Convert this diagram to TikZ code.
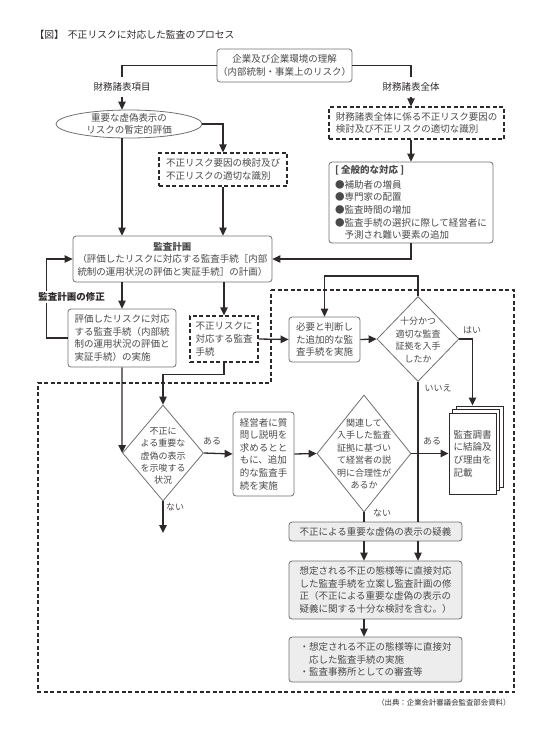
\documentclass[tikz,border=0pt]{standalone}
\usepackage{fontspec}
\setmainfont{Noto Sans CJK JP}
\usepackage{tikz}
\usetikzlibrary{positioning,arrows.meta,shapes.geometric}
\definecolor{lnc}{HTML}{2F2A2A}
\definecolor{bdc}{HTML}{707070}
\definecolor{txc}{HTML}{4A4A4A}
\definecolor{flc}{HTML}{EDEDED}

\begin{document}
\begin{tikzpicture}[x=1pt,y=-1pt,
		txt/.style={font=\fontsize{9.5}{12.6}\selectfont,text=txc},
		box/.style={txt,draw=bdc,line width=0.8pt,rounded corners=3pt,fill=white,inner sep=0pt,align=left},
		gbox/.style={box,fill=flc},
		dbox/.style={txt,draw=lnc,line width=1.3pt,dash pattern=on 4pt off 2.5pt,fill=white,inner sep=0pt,align=left},
		dia/.style={draw=bdc,line width=0.8pt,shape=diamond,inner sep=0pt,fill=white},
		page/.style={txt,draw=lnc,line width=1pt,fill=white,inner sep=0pt,align=left,minimum width=47,minimum height=81},
		lbl/.style={font=\fontsize{9}{11}\selectfont,text=txc,inner sep=1pt},
		conn/.style={draw=lnc,line width=1.3pt},
		arr/.style={conn,-{Triangle[length=8pt,width=7.5pt]}}]
	\useasboundingbox (0,0) rectangle (550,732);

	\node[anchor=west,font=\fontsize{9.8}{12}\selectfont,text=lnc] (TTL) at (31,35) {【図】\hspace{4pt}不正リスクに対応した監査のプロセス};

	% dashed frame round the fraud response part
	\draw[lnc,line width=1.3pt,dash pattern=on 4pt off 2.5pt] (271,290) -- (514,290) -- (514,692) -- (38,692) -- (38,383) -- (271,383) -- cycle;

	\node[box,align=center,minimum width=135,minimum height=33] (TOP) at (284.5,65.5) {企業及び企業環境の理解\\（内部統制・事業上のリスク）};

	\node[shape=ellipse,draw=bdc,line width=0.8pt,fill=white,minimum width=146,minimum height=28,inner sep=0pt] (ELL) at (129,124) {};
	\node[txt,align=center,inner sep=0pt] (ELLT) at (ELL) {重要な虚偽表示の\\リスクの暫定的評価};

	\node[dbox,minimum width=128,minimum height=33] (DFL) at (223,169.5) {不正リスク要因の検討及び\\不正リスクの適切な識別};
	\node[dbox,minimum width=175,minimum height=32] (DFR) at (416.5,123) {財務諸表全体に係る不正リスク要因の\\検討及び不正リスクの適切な識別};
	\node[box,minimum width=164,minimum height=81] (GEN) at (411,202.5) {\textbf{[ 全般的な対応 ]}\\[2pt]●補助者の増員\\●専門家の配置\\●監査時間の増加\\●監査手続の選択に際して経営者に\\　予測され難い要素の追加};

	\node[box,align=center,minimum width=199,minimum height=46] (PLAN) at (172.5,259) {\textbf{監査計画}\\（評価したリスクに対応する監査手続［内部\\統制の運用状況の評価と実証手続］の計画）};

	\node[box,minimum width=108,minimum height=58] (RISK) at (122,338) {評価したリスクに対応\\する監査手続（内部統\\制の運用状況の評価と\\実証手続）の実施};
	\node[dbox,minimum width=68,minimum height=46] (FR) at (224,339) {不正リスクに\\対応する監査\\手続};
	\node[box,minimum width=71,minimum height=45] (ADD) at (324.5,339.5) {必要と判断し\\た追加的な監\\査手続を実施};

	\node[dia,minimum width=82,minimum height=85] (DQ1) at (418,339) {};
	\node[txt,align=center,inner sep=0pt,font=\fontsize{9}{12.5}\selectfont] (DQ1T) at (418,340) {十分かつ\\適切な監査\\証拠を入手\\したか};

	\node[dia,minimum width=81,minimum height=96] (DQ2) at (163,453) {};
	\node[txt,align=center,inner sep=0pt,font=\fontsize{9}{12.2}\selectfont] (DQ2T) at (163,456) {不正に\\よる重要な\\虚偽の表示\\を示唆する\\状況};

	\node[box,minimum width=61,minimum height=84] (MGR) at (263.5,454) {経営者に質\\問し説明を\\求めるとと\\もに、追加\\的な監査手\\続を実施};

	\node[dia,minimum width=94,minimum height=117] (DQ3) at (364,453.5) {};
	\node[txt,align=center,inner sep=0pt,font=\fontsize{9}{12.5}\selectfont] (DQ3T) at (364,454) {関連して\\入手した監査\\証拠に基づい\\て経営者の説\\明に合理性が\\あるか};

	\node[page] (DOC3) at (479.5,446.5) {};
	\node[page] (DOC2) at (476,450) {};
	\node[page] (DOC) at (472.5,453.5) {監査調書\\に結論及\\び理由を\\記載};

	\node[gbox,align=center,minimum width=173,minimum height=19] (SUSP) at (375.5,531.5) {不正による重要な虚偽の表示の疑義};
	\node[gbox,minimum width=173,minimum height=58] (PLAN2) at (375.5,590) {想定される不正の態様等に直接対応\\した監査手続を立案し監査計画の修\\正（不正による重要な虚偽の表示の\\疑義に関する十分な検討を含む。）};
	\node[gbox,minimum width=173,minimum height=45] (DO) at (375.5,659.5) {・想定される不正の態様等に直接対\\　応した監査手続の実施\\・監査事務所としての審査等};

	\coordinate (END1) at (163,533);

	% connectors
	\draw[arr] (TOP.west) -| (RISK.north |- ELL.north);
	\draw[arr] (TOP.east) -| (GEN.north |- DFR.north);
	\draw[arr] (ELL.east) -| (DFL.north);
	\draw[arr] (ELL.south -| RISK.north) -- (RISK.north |- PLAN.north);
	\draw[arr] (DFL.south) -- (DFL.south |- PLAN.north);
	\draw[arr] (DFR.south -| GEN.north) -- (GEN.north);
	\draw[arr] (GEN.south) |- (PLAN.east);
	\draw[arr] (PLAN.south -| RISK.north) -- (RISK.north);
	\draw[arr] (PLAN.south -| FR.north) -- (FR.north);
	\draw[arr] (RISK.west) -- ++(-21,0) |- (PLAN.west);
	\draw[arr] (FR.east) -- (ADD.west);
	\draw[arr] (ADD.east) -- (DQ1.west);
	\draw[arr] (DQ1.north) -- ++(0,-20) -| (ADD.north);
	\draw[arr] (DQ1.east) -| (DOC.north |- DOC3.north);
	\draw[arr] (RISK.south) -- (DQ2.west);
	\draw[arr] (FR.south) -- ++(0,12) -| (DQ2.north);
	\draw[arr] (DQ2.east) -- (MGR.west);
	\draw[arr] (DQ2.south) -- (END1);
	\draw[arr] (MGR.east) -- (DQ3.west);
	\draw[arr] (DQ3.east) -- (DOC.west);
	\draw[conn] (DQ3.south) -- (DQ3.south |- SUSP.north);
	\draw[conn] (DQ1.south) -- (DQ1.south |- SUSP.north);
	\draw[arr] (SUSP.south -| DQ3.south) -- (PLAN2.north -| DQ3.south);
	\draw[arr] (SUSP.south -| DQ1.south) -- (PLAN2.north -| DQ1.south);
	\draw[arr] (PLAN2.south -| DQ3.south) -- (DO.north -| DQ3.south);

	% labels on the connectors
	\node[lbl,text=lnc,fill=white,inner ysep=6pt,font=\fontsize{9.5}{11}\selectfont] (FSI) at (122,87) {財務諸表項目};
	\node[lbl,text=lnc,fill=white,inner ysep=6pt,font=\fontsize{9.5}{11}\selectfont] (FSW) at (411,87) {財務諸表全体};
	\node[lbl,text=lnc,fill=white,font=\fontsize{9.5}{11}\bfseries] (MOD) at (71.5,297) {監査計画の修正};
	\node[lbl] (YES1) at (472,330) {はい};
	\node[lbl] (NO1) at (438,388) {いいえ};
	\node[lbl] (YES2) at (212,441) {ある};
	\node[lbl] (NO2) at (175,507) {ない};
	\node[lbl] (YES3) at (432,441) {ある};
	\node[lbl] (NO3) at (382,513) {ない};

	\node[anchor=east,font=\fontsize{7.4}{9}\selectfont,text=lnc] (SRC) at (514,703) {（出典：企業会計審議会監査部会資料）};
\end{tikzpicture}
\end{document}
